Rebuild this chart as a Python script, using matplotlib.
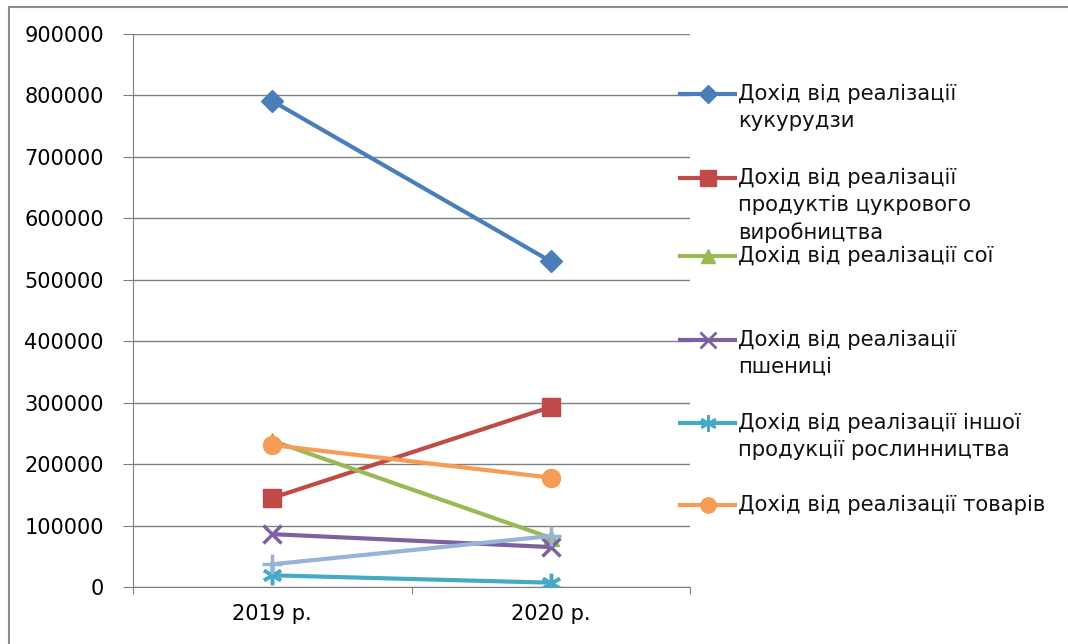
import matplotlib.pyplot as plt
from matplotlib.lines import Line2D
from matplotlib.patches import Rectangle

years = ['2019 р.', '2020 р.']
corn = [791000, 530000]
sugar = [145000, 293000]
soy = [238000, 80000]
wheat = [86000, 65000]
other = [19000, 7000]
goods = [231000, 178000]
extra = [37000, 83000]   # series without legend entry

labels = ['Дохід від реалізації\nкукурудзи',
          'Дохід від реалізації\nпродуктів цукрового\nвиробництва',
          'Дохід від реалізації сої',
          'Дохід від реалізації\nпшениці',
          'Дохід від реалізації іншої\nпродукції рослинництва',
          'Дохід від реалізації товарів']

series = [corn, sugar, soy, wheat, other, goods]
colors = ['#4A7EBB', '#BE4B48', '#98B954', '#7D60A0', '#46AAC5', '#F59D56']
markers = ['D', 's', '^', 'x', '*', 'o']
msizes = [11, 13, 12, 13, 14, 13]

plt.rcParams['font.family'] = ['DejaVu Sans']

fig = plt.figure(figsize=(10.68, 6.44), dpi=100)
ax = fig.add_axes([133 / 1068, 1 - 587 / 644, (690 - 133) / 1068, (587 - 34) / 644])

xs = [0.5, 1.5]
for vals, c, m, ms in zip(series, colors, markers, msizes):
    mew = 2.5 if m in ('x', '*') else 1
    if m == '*':
        m = (6, 2, 0)
    ax.plot(xs, vals, color=c, lw=3, marker=m, ms=ms, mew=mew, zorder=3)
ax.plot(xs, extra, color='#98B3D9', lw=3, marker='+', ms=14, mew=2.5, zorder=3)

ax.set_xlim(0, 2)
ax.set_ylim(0, 900000)
ax.set_yticks(range(0, 900001, 100000))
ax.set_yticklabels([str(v) for v in range(0, 900001, 100000)], fontsize=15)
ax.set_xticks([0, 1, 2])
ax.set_xticklabels(['', '', ''])
ax.set_xticks(xs, minor=True)
ax.set_xticklabels(years, minor=True, fontsize=15)
ax.tick_params(axis='x', which='minor', length=0, pad=12)
ax.tick_params(axis='x', which='major', length=5, color='#808080')
ax.tick_params(axis='y', length=7, color='#808080', pad=14)
ax.grid(axis='y', color='#808080', lw=1)
ax.set_axisbelow(True)
for s in ['top', 'right']:
    ax.spines[s].set_visible(False)
for s in ['left', 'bottom']:
    ax.spines[s].set_color('#808080')

# manual legend, markers aligned with first text line
leg_y = [94, 178, 256, 340, 423, 505]
for lab, c, m, ms, y in zip(labels, colors, markers, msizes, leg_y):
    mew = 2 if m in ('x', '*') else 1
    if m == '*':
        m = (6, 2, 0)
    fy = 1 - y / 644
    fig.add_artist(Line2D([680 / 1068, 735 / 1068], [fy, fy], color=c, lw=3,
                          transform=fig.transFigure))
    fig.add_artist(Line2D([708 / 1068], [fy], color=c, marker=m, ms=ms * 0.85,
                          mew=mew, transform=fig.transFigure))
    fig.text(738 / 1068, fy + 10 / 644, lab, fontsize=15.3, va='top', ha='left',
             linespacing=1.42, color='#111111')

# outer frame
fig.add_artist(Rectangle((9 / 1068, -0.1), 1.1, 1.1 - 7 / 644, fill=False,
                         edgecolor='#8c8c8c', lw=1.5, transform=fig.transFigure))

fig.savefig('out.png', dpi=100)
